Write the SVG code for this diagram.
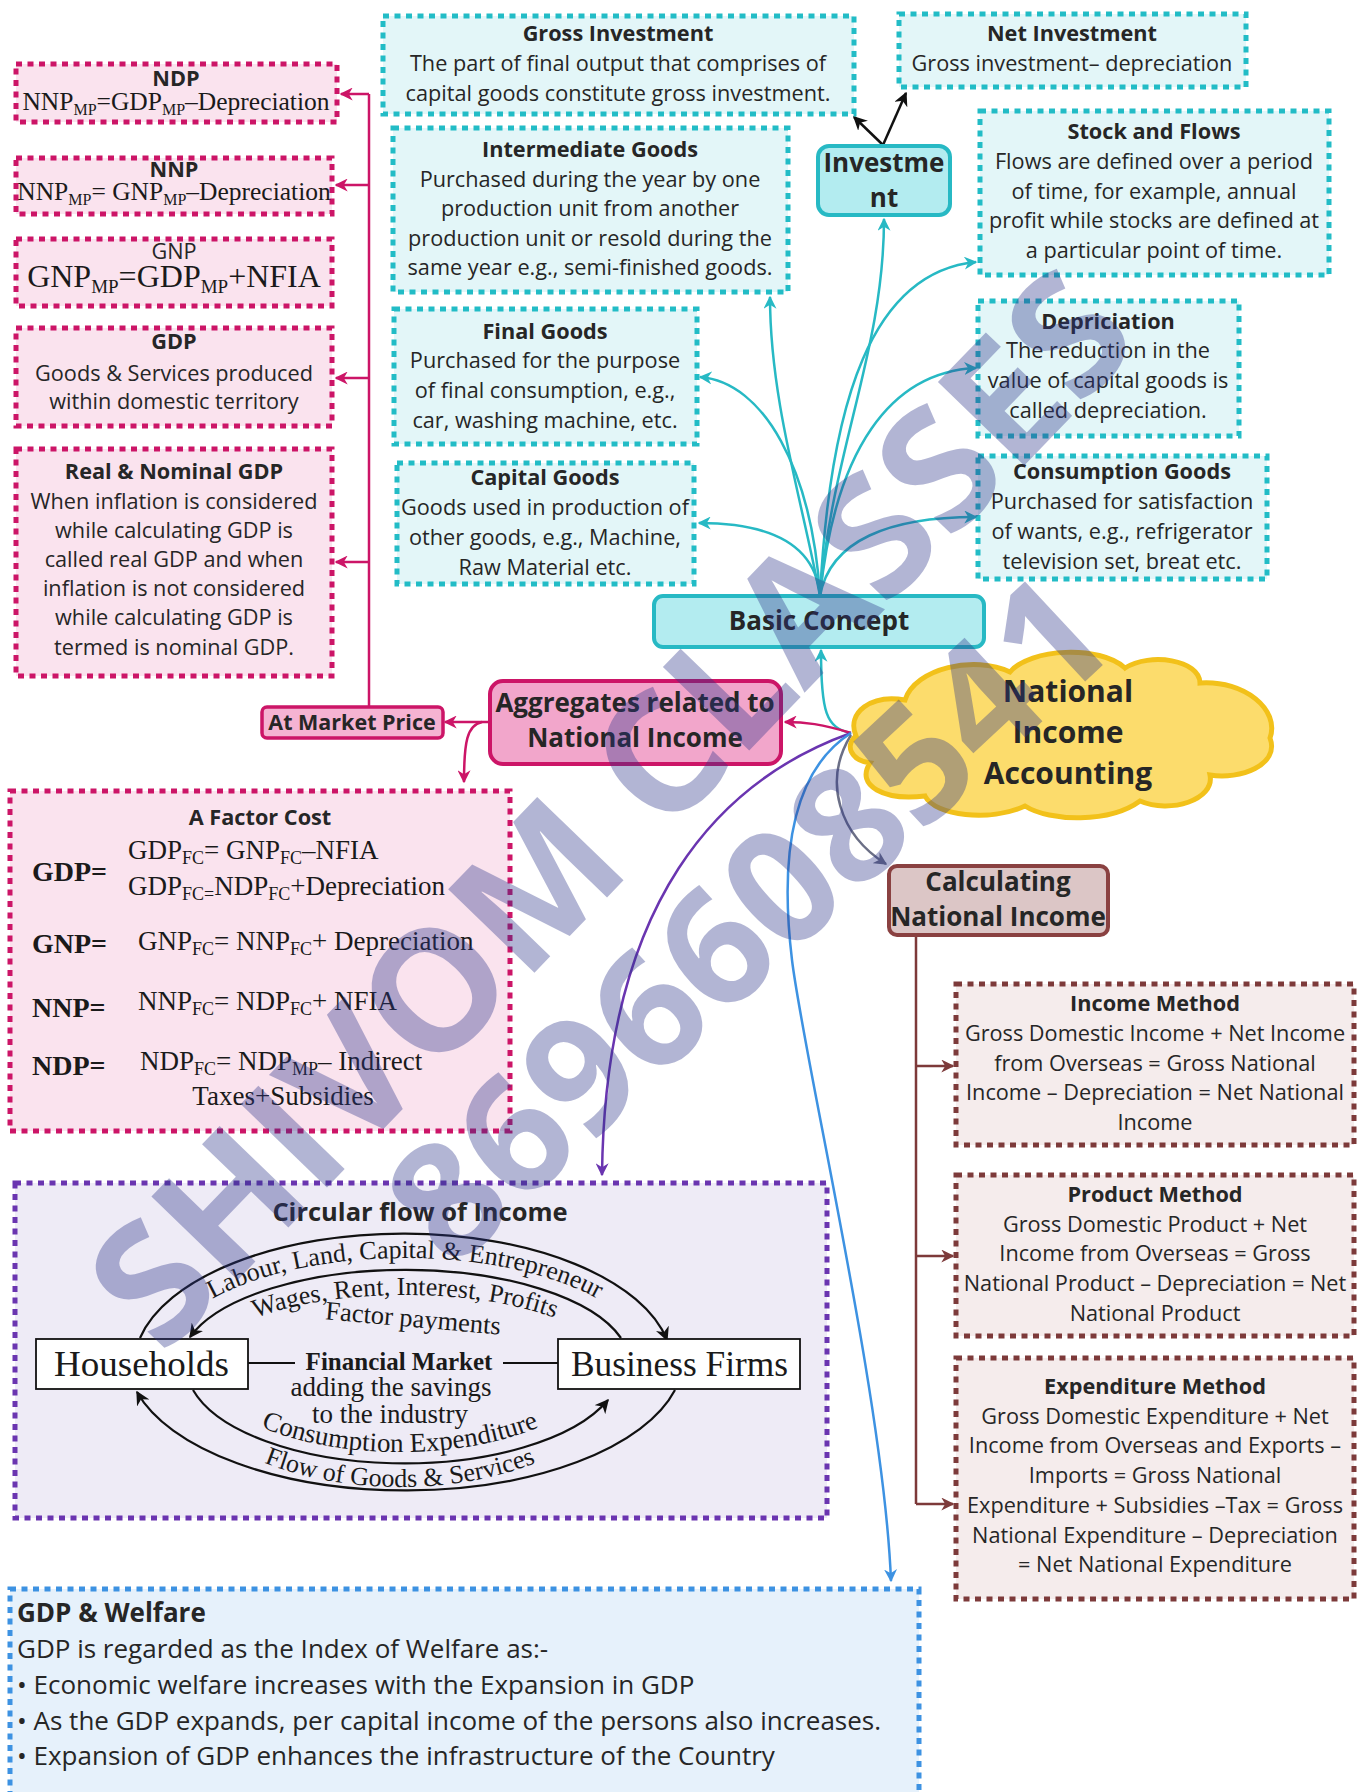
<svg xmlns="http://www.w3.org/2000/svg" width="1363" height="1792" viewBox="0 0 1363 1792">
<defs>
<style>
.t{font-family:'Open Sans','Liberation Sans',sans-serif;font-size:21.7px;fill:#262626;text-anchor:middle}
.b{font-weight:700}
.l{text-anchor:start}
.f26w{font-size:26px}
.f26{font-size:26px}
.f30{font-size:30px}
.f21{font-size:21.5px}
.f25{font-size:25.5px}
.s{font-family:'Liberation Serif','Times New Roman',serif;fill:#1a1a1a}
.sub{font-size:16px}
.sub2{font-size:18px}
.dt{stroke-width:5;stroke-dasharray:6 5.5}
.teal{fill:#e3f6f8;stroke:#22bcc6}
.pink{fill:#fae3ee;stroke:#cc1567}
.brown{fill:#f5ecec;stroke:#7d3a3a}
.purple{fill:#eeebf6;stroke:#6a35b0}
.blue{fill:#e6f1fb;stroke:#3d92e2}
.c{fill:none;stroke-width:2.5}
.ct{stroke:#27b9c4}
.cp{stroke:#cc1567}
.cb{stroke:#7d3a3a}
.ck{stroke:#111}
.cf{fill:none;stroke:#111;stroke-width:2.2}
.wm{font-family:'Open Sans','Liberation Sans',sans-serif;font-weight:700;fill:#2c3589;opacity:0.36;text-anchor:middle}
</style>
<marker id="aT" viewBox="0 0 10 10" refX="9" refY="5" markerWidth="13" markerHeight="13" markerUnits="userSpaceOnUse" orient="auto"><path d="M0,0L10,5L0,10L3,5Z" fill="#27b9c4"/></marker>
<marker id="aP" viewBox="0 0 10 10" refX="9" refY="5" markerWidth="13" markerHeight="13" markerUnits="userSpaceOnUse" orient="auto"><path d="M0,0L10,5L0,10L3,5Z" fill="#cc1567"/></marker>
<marker id="aB" viewBox="0 0 10 10" refX="9" refY="5" markerWidth="13" markerHeight="13" markerUnits="userSpaceOnUse" orient="auto"><path d="M0,0L10,5L0,10L3,5Z" fill="#7d3a3a"/></marker>
<marker id="aK" viewBox="0 0 10 10" refX="9" refY="5" markerWidth="14" markerHeight="14" markerUnits="userSpaceOnUse" orient="auto"><path d="M0,0L10,5L0,10L3,5Z" fill="#111"/></marker>
<marker id="aV" viewBox="0 0 10 10" refX="9" refY="5" markerWidth="13" markerHeight="13" markerUnits="userSpaceOnUse" orient="auto"><path d="M0,0L10,5L0,10L3,5Z" fill="#6a35b0"/></marker>
<marker id="aU" viewBox="0 0 10 10" refX="9" refY="5" markerWidth="13" markerHeight="13" markerUnits="userSpaceOnUse" orient="auto"><path d="M0,0L10,5L0,10L3,5Z" fill="#3d92e2"/></marker>
<marker id="aG" viewBox="0 0 10 10" refX="9" refY="5" markerWidth="13" markerHeight="13" markerUnits="userSpaceOnUse" orient="auto"><path d="M0,0L10,5L0,10L3,5Z" fill="#6b6f86"/></marker>
<path id="pLab" d="M160,1365 A245,107 0 0 1 650,1365"/>
<path id="pWag" d="M203,1365 A202,70 0 0 1 607,1365"/>
<path id="pCon" d="M202,1365 A198,87 0 0 0 598,1365"/>
<path id="pFlo" d="M173,1365 A227,122 0 0 0 627,1365"/>
</defs>
<rect width="1363" height="1792" fill="#ffffff"/>

<g id="connectors">
<path class="c ct" d="M820,596 C832,450 884,350 884,219" marker-end="url(#aT)"/>
<path class="c ct" d="M820,596 C802,500 770,400 770,297" marker-end="url(#aT)"/>
<path class="c ct" d="M820,596 C830,400 872,272 976,262" marker-end="url(#aT)"/>
<path class="c ct" d="M820,596 C812,470 764,382 700,377" marker-end="url(#aT)"/>
<path class="c ct" d="M820,596 C835,450 890,372 976,368" marker-end="url(#aT)"/>
<path class="c ct" d="M820,596 C815,540 762,523 699,523" marker-end="url(#aT)"/>
<path class="c ct" d="M820,596 C830,540 890,517 976,517" marker-end="url(#aT)"/>
<path class="c ct" d="M851,733 C826,728 821,712 821,650" marker-end="url(#aT)"/>
<path class="c ck" d="M883,145 L854,117" marker-end="url(#aK)"/>
<path class="c ck" d="M883,145 L906,93" marker-end="url(#aK)"/>
<path class="c cp" d="M851,733 C822,724 805,722 785,722" marker-end="url(#aP)"/>
<path class="c cp" d="M489,722 H445" marker-end="url(#aP)"/>
<path class="c cp" d="M482,722 C467,725 464,742 464,782" marker-end="url(#aP)"/>
<path class="c cp" d="M369,706 V94"/>
<path class="c cp" d="M369,94 H341" marker-end="url(#aP)"/>
<path class="c cp" d="M369,185 H336" marker-end="url(#aP)"/>
<path class="c cp" d="M369,378 H336" marker-end="url(#aP)"/>
<path class="c cp" d="M369,562 H336" marker-end="url(#aP)"/>
<path class="c" stroke="#6a35b0" d="M851,733 C720,780 605,900 602,1175" marker-end="url(#aV)"/>
<path class="c" stroke="#3d92e2" d="M851,733 C790,772 780,860 792,960 S884,1400 891,1581" marker-end="url(#aU)"/>
<path class="c" stroke="#6b6f86" d="M851,735 C822,782 840,835 886,864" marker-end="url(#aG)"/>
<path class="c cb" d="M916,936 V1504"/>
<path class="c cb" d="M916,1066 H953" marker-end="url(#aB)"/>
<path class="c cb" d="M916,1256 H953" marker-end="url(#aB)"/>
<path class="c cb" d="M916,1504 H953" marker-end="url(#aB)"/>
</g>

<g id="gross-investment">
<rect class="dt teal" x="383" y="16" width="471" height="98"/>
<text class="t b" x="618" y="41">Gross Investment</text>
<text class="t" x="618" y="71">The part of final output that comprises of</text>
<text class="t" x="618" y="101">capital goods constitute gross investment.</text>
</g>
<g id="net-investment">
<rect class="dt teal" x="899" y="14" width="347" height="73"/>
<text class="t b" x="1072" y="41">Net Investment</text>
<text class="t" x="1072" y="71">Gross investment– depreciation</text>
</g>
<g id="intermediate-goods">
<rect class="dt teal" x="393" y="128" width="395" height="164"/>
<text class="t b" x="590" y="157">Intermediate Goods</text>
<text class="t" x="590" y="187">Purchased during the year by one</text>
<text class="t" x="590" y="216">production unit from another</text>
<text class="t" x="590" y="246">production unit or resold during the</text>
<text class="t" x="590" y="275">same year e.g., semi-finished goods.</text>
</g>
<g id="investment">
<rect x="818" y="146" width="132" height="69" rx="11" fill="#b3ecf0" stroke="#27b9c4" stroke-width="4"/>
<text class="t b f26" x="884" y="172">Investme</text>
<text class="t b f26" x="884" y="207">nt</text>
</g>
<g id="stock-and-flows">
<rect class="dt teal" x="980" y="111" width="349" height="164"/>
<text class="t b" x="1154" y="139">Stock and Flows</text>
<text class="t" x="1154" y="169">Flows are defined over a period</text>
<text class="t" x="1154" y="199">of time, for example, annual</text>
<text class="t" x="1154" y="228">profit while stocks are defined at</text>
<text class="t" x="1154" y="258">a particular point of time.</text>
</g>
<g id="final-goods">
<rect class="dt teal" x="394" y="309" width="303" height="135"/>
<text class="t b" x="545" y="339">Final Goods</text>
<text class="t" x="545" y="368">Purchased for the purpose</text>
<text class="t" x="545" y="398">of final consumption, e.g.,</text>
<text class="t" x="545" y="428">car, washing machine, etc.</text>
</g>
<g id="capital-goods">
<rect class="dt teal" x="397" y="463" width="297" height="121"/>
<text class="t b" x="545" y="485">Capital Goods</text>
<text class="t" x="545" y="515">Goods used in production of</text>
<text class="t" x="545" y="545">other goods, e.g., Machine,</text>
<text class="t" x="545" y="575">Raw Material etc.</text>
</g>
<g id="depriciation">
<rect class="dt teal" x="978" y="301" width="261" height="135"/>
<text class="t b" x="1108" y="329">Depriciation</text>
<text class="t" x="1108" y="358">The reduction in the</text>
<text class="t" x="1108" y="388">value of capital goods is</text>
<text class="t" x="1108" y="418">called depreciation.</text>
</g>
<g id="consumption-goods">
<rect class="dt teal" x="978" y="456" width="289" height="123"/>
<text class="t b" x="1122" y="479">Consumption Goods</text>
<text class="t" x="1122" y="509">Purchased for satisfaction</text>
<text class="t" x="1122" y="539">of wants, e.g., refrigerator</text>
<text class="t" x="1122" y="569">television set, breat etc.</text>
</g>
<g id="basic-concept">
<rect x="654" y="596" width="330" height="51" rx="9" fill="#b3ecf0" stroke="#27b9c4" stroke-width="4"/>
<text class="t b f26" x="819" y="630">Basic Concept</text>
</g>

<g id="ndp">
<rect class="dt pink" x="16" y="64" width="321" height="58"/>
<text class="t b" x="176" y="86">NDP</text>
<text class="s" x="176" y="110" font-size="25.5" text-anchor="middle">NNP<tspan class="sub" dy="5">MP</tspan><tspan dy="-5">=GDP</tspan><tspan class="sub" dy="5">MP</tspan><tspan dy="-5">–Depreciation</tspan></text>
</g>
<g id="nnp">
<rect class="dt pink" x="16" y="158" width="316" height="56"/>
<text class="t b" x="174" y="177">NNP</text>
<text class="s" x="174" y="200" font-size="25.5" text-anchor="middle">NNP<tspan class="sub" dy="5">MP</tspan><tspan dy="-5">= GNP</tspan><tspan class="sub" dy="5">MP</tspan><tspan dy="-5">–Depreciation</tspan></text>
</g>
<g id="gnp">
<rect class="dt pink" x="16" y="239" width="316" height="67"/>
<text class="t" x="174" y="259">GNP</text>
<text class="s" x="174" y="287" font-size="32" text-anchor="middle">GNP<tspan font-size="19" dy="6">MP</tspan><tspan dy="-6">=GDP</tspan><tspan font-size="19" dy="6">MP</tspan><tspan dy="-6">+NFIA</tspan></text>
</g>
<g id="gdp">
<rect class="dt pink" x="16" y="328" width="316" height="98"/>
<text class="t b" x="174" y="349">GDP</text>
<text class="t" x="174" y="381">Goods &amp; Services produced</text>
<text class="t" x="174" y="409">within domestic territory</text>
</g>
<g id="real-nominal-gdp">
<rect class="dt pink" x="16" y="449" width="316" height="227"/>
<text class="t b" x="174" y="479">Real &amp; Nominal GDP</text>
<text class="t" x="174" y="509">When inflation is considered</text>
<text class="t" x="174" y="538">while calculating GDP is</text>
<text class="t" x="174" y="567">called real GDP and when</text>
<text class="t" x="174" y="596">inflation is not considered</text>
<text class="t" x="174" y="625">while calculating GDP is</text>
<text class="t" x="174" y="655">termed is nominal GDP.</text>
</g>
<g id="at-market-price">
<rect x="262" y="707" width="181" height="31" rx="5" fill="#f5b3d2" stroke="#cc1567" stroke-width="3.5"/>
<text class="t b f21" x="352" y="730">At Market Price</text>
</g>
<g id="aggregates">
<rect x="490" y="681" width="291" height="83" rx="13" fill="#f2a6cb" stroke="#cc1567" stroke-width="4"/>
<text class="t b f26" x="635" y="712">Aggregates related to</text>
<text class="t b f26" x="635" y="747">National Income</text>
</g>
<g id="factor-cost">
<rect class="dt pink" x="10" y="791" width="500" height="340"/>
<text class="t b" x="260" y="825">A Factor Cost</text>
<text class="s" x="32" y="881" font-size="28" font-weight="700">GDP=</text>
<text class="s" x="128" y="859" font-size="27">GDP<tspan class="sub2" dy="5">FC</tspan><tspan dy="-5">= GNP</tspan><tspan class="sub2" dy="5">FC</tspan><tspan dy="-5">–NFIA</tspan></text>
<text class="s" x="128" y="895" font-size="27">GDP<tspan class="sub2" dy="5">FC=</tspan><tspan dy="-5">NDP</tspan><tspan class="sub2" dy="5">FC</tspan><tspan dy="-5">+Depreciation</tspan></text>
<text class="s" x="32" y="953" font-size="28" font-weight="700">GNP=</text>
<text class="s" x="138" y="950" font-size="27">GNP<tspan class="sub2" dy="5">FC</tspan><tspan dy="-5">= NNP</tspan><tspan class="sub2" dy="5">FC</tspan><tspan dy="-5">+ Depreciation</tspan></text>
<text class="s" x="32" y="1017" font-size="28" font-weight="700">NNP=</text>
<text class="s" x="138" y="1010" font-size="27">NNP<tspan class="sub2" dy="5">FC</tspan><tspan dy="-5">= NDP</tspan><tspan class="sub2" dy="5">FC</tspan><tspan dy="-5">+ NFIA</tspan></text>
<text class="s" x="32" y="1075" font-size="28" font-weight="700">NDP=</text>
<text class="s" x="140" y="1070" font-size="27">NDP<tspan class="sub2" dy="5">FC</tspan><tspan dy="-5">= NDP</tspan><tspan class="sub2" dy="5">MP</tspan><tspan dy="-5">– Indirect</tspan></text>
<text class="s" x="283" y="1105" font-size="27" text-anchor="middle">Taxes+Subsidies</text>
</g>

<g id="national-income-accounting">
<path d="M856,736 C846,712 872,694 905,700 C915,668 975,655 1010,672 C1030,648 1100,645 1125,668 C1150,652 1200,660 1200,683 C1245,680 1280,710 1270,738 C1280,765 1240,780 1210,775 C1215,800 1170,814 1140,801 C1110,823 1050,822 1025,806 C990,822 935,816 925,796 C885,801 855,786 870,763 C850,760 845,745 856,736 Z" fill="#fcdc6c" stroke="#f2c11a" stroke-width="5"/>
<text class="t b f30" x="1068" y="702">National</text>
<text class="t b f30" x="1068" y="743">Income</text>
<text class="t b f30" x="1068" y="784">Accounting</text>
</g>

<g id="calculating-national-income">
<rect x="889" y="866" width="219" height="69" rx="8" fill="#dcc6c6" stroke="#8a4141" stroke-width="4"/>
<text class="t b f26" x="998" y="891">Calculating</text>
<text class="t b f26" x="998" y="926">National Income</text>
</g>
<g id="income-method">
<rect class="dt brown" x="956" y="984" width="398" height="161"/>
<text class="t b" x="1155" y="1011">Income Method</text>
<text class="t" x="1155" y="1041">Gross Domestic Income + Net Income</text>
<text class="t" x="1155" y="1071">from Overseas = Gross National</text>
<text class="t" x="1155" y="1100">Income – Depreciation = Net National</text>
<text class="t" x="1155" y="1130">Income</text>
</g>
<g id="product-method">
<rect class="dt brown" x="956" y="1175" width="398" height="161"/>
<text class="t b" x="1155" y="1202">Product Method</text>
<text class="t" x="1155" y="1232">Gross Domestic Product + Net</text>
<text class="t" x="1155" y="1261">Income from Overseas = Gross</text>
<text class="t" x="1155" y="1291">National Product – Depreciation = Net</text>
<text class="t" x="1155" y="1321">National Product</text>
</g>
<g id="expenditure-method">
<rect class="dt brown" x="956" y="1358" width="398" height="241"/>
<text class="t b" x="1155" y="1394">Expenditure Method</text>
<text class="t" x="1155" y="1424">Gross Domestic Expenditure + Net</text>
<text class="t" x="1155" y="1453">Income from Overseas and Exports –</text>
<text class="t" x="1155" y="1483">Imports = Gross National</text>
<text class="t" x="1155" y="1513">Expenditure + Subsidies –Tax = Gross</text>
<text class="t" x="1155" y="1543">National Expenditure – Depreciation</text>
<text class="t" x="1155" y="1572">= Net National Expenditure</text>
</g>

<g id="circular-flow">
<rect class="dt purple" x="15" y="1183" width="812" height="335"/>
<text class="t b f25" x="420" y="1221">Circular flow of Income</text>
<path class="cf" d="M140,1338 A269,132 0 0 1 667,1340" marker-end="url(#aK)"/>
<path class="cf" d="M621,1338 A225,95 0 0 0 190,1337" marker-end="url(#aK)"/>
<path class="cf" d="M193,1390 A218,98 0 0 0 608,1400" marker-end="url(#aK)"/>
<path class="cf" d="M675,1390 A278,133 0 0 1 137,1392" marker-end="url(#aK)"/>
<rect x="36" y="1339" width="212" height="50" fill="#ffffff" stroke="#111" stroke-width="1.8"/>
<rect x="558" y="1339" width="242" height="50" fill="#ffffff" stroke="#111" stroke-width="1.8"/>
<path d="M248,1363 H295 M503,1363 H558" stroke="#111" stroke-width="2"/>
<text class="s" x="54" y="1376" font-size="35" textLength="175" lengthAdjust="spacingAndGlyphs">Households</text>
<text class="s" x="571" y="1376" font-size="35" textLength="217" lengthAdjust="spacingAndGlyphs">Business Firms</text>
<text class="s" x="399" y="1370" font-size="25" font-weight="700" text-anchor="middle">Financial Market</text>
<text class="s" x="391" y="1396" font-size="27" text-anchor="middle">adding the savings</text>
<text class="s" x="390" y="1423" font-size="27" text-anchor="middle">to the industry</text>
<text class="s" font-size="26"><textPath href="#pLab" startOffset="50%" text-anchor="middle">Labour, Land, Capital &amp; Entrepreneur</textPath></text>
<text class="s" font-size="26"><textPath href="#pWag" startOffset="50%" text-anchor="middle">Wages,  Rent, Interest, Profits</textPath></text>
<text class="s" x="413" y="1327" font-size="26.5" text-anchor="middle" transform="rotate(5 413 1320)">Factor payments</text>
<text class="s" font-size="27"><textPath href="#pCon" startOffset="50%" text-anchor="middle">Consumption Expenditure</textPath></text>
<text class="s" font-size="26"><textPath href="#pFlo" startOffset="50%" text-anchor="middle">Flow of Goods &amp; Services</textPath></text>
</g>

<g id="gdp-welfare">
<rect class="dt blue" x="10" y="1589" width="909" height="230"/>
<text class="t b l f26w" x="17" y="1622">GDP &amp; Welfare</text>
<text class="t l f26w" x="17" y="1658">GDP is regarded as the Index of Welfare as:-</text>
<text class="t l f26w" x="17" y="1694">• Economic welfare increases with the Expansion in GDP</text>
<text class="t l f26w" x="17" y="1730">• As the GDP expands, per capital income of the persons also increases.</text>
<text class="t l f26w" x="17" y="1765">• Expansion of GDP enhances the infrastructure of the Country</text>
</g>

<g id="watermark">
<text class="wm" font-size="168" transform="translate(610,808) rotate(-46)" x="0" y="60">SHIVOM CLASSES</text>
<text class="wm" font-size="160" transform="translate(748,918) rotate(-43)" x="0" y="57">8696608541</text>
</g>
</svg>
